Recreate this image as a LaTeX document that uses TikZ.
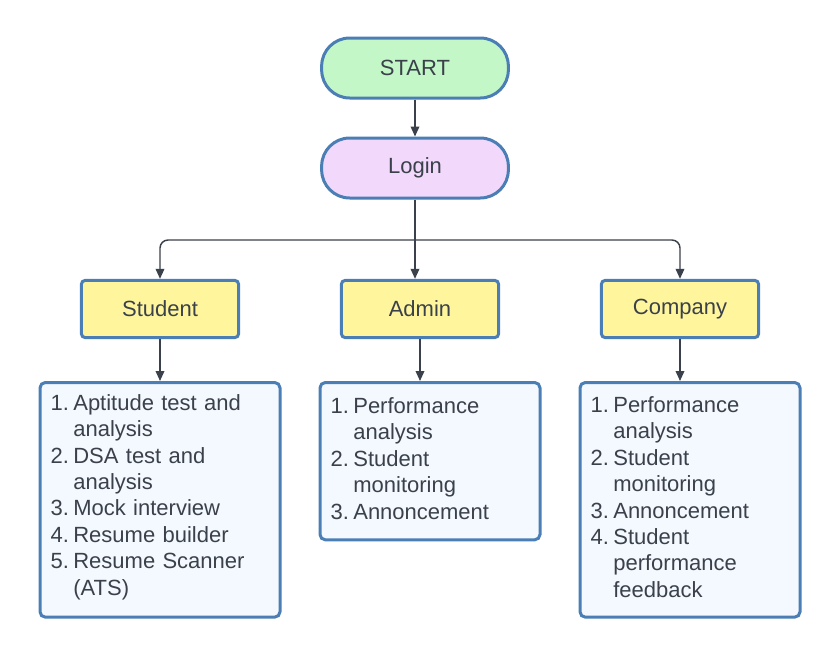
\documentclass[tikz,border=0pt]{standalone}
\usepackage{fontspec}
\setmainfont{Liberation Sans}
\usetikzlibrary{arrows.meta}

\definecolor{edgeblue}{HTML}{4A7EB4}
\definecolor{startgreen}{HTML}{C3F7C8}
\definecolor{loginpink}{HTML}{F2D8FB}
\definecolor{roleyellow}{HTML}{FFF59D}
\definecolor{listblue}{HTML}{F4F9FF}
\definecolor{inkgray}{HTML}{3A414A}

\newcommand{\litem}[2]{\par\noindent\hangindent=17pt\hangafter=1\makebox[17pt][l]{#1.}#2}

\begin{document}
\begin{tikzpicture} [x=.75pt, y=-.75pt,
  every node/.style={font=\fontsize{16.5}{19.8}\selectfont, text=inkgray},
  term/.style={draw=edgeblue, line width=2.25pt, rounded corners=21pt, minimum width=140pt, minimum height=45pt},
  role/.style={draw=edgeblue, line width=2.25pt, rounded corners=3pt, fill=roleyellow, minimum width=118pt, minimum height=43pt},
  tasks/.style={draw=edgeblue, line width=2.25pt, rounded corners=4pt, fill=listblue, anchor=north, align=left, inner xsep=8pt, inner ysep=1pt},
  conn/.style={draw=inkgray, line width=1.1pt, ->, >={Triangle[length=7.5pt,width=6.5pt]}}]
\useasboundingbox (0,0) rectangle (840,657);
\node[term, fill=startgreen] (start) at (415,68) {START};
\node[term, fill=loginpink] (login) at (415,168) {Login};
\node[role] (student) at (160,309) {Student};
\node[role] (admin) at (420,309) {Admin};
\node[role] (company) at (680,309) {Company};
\node[tasks, text width=164pt, minimum height=176pt] (student-tasks) at (160,381) {
 \litem{1}{Aptitude test and\break analysis}
 \litem{2}{DSA test and\break analysis}
 \litem{3}{Mock interview}
 \litem{4}{Resume builder}
 \litem{5}{Resume Scanner\break (ATS)}\par\vspace{12pt}};
\node[tasks, text width=149pt, minimum height=118pt] (admin-tasks) at (430,381) {
 \litem{1}{Performance\break analysis}
 \litem{2}{Student\break monitoring}
 \litem{3}{Annoncement}\par\vspace{12pt}};
\node[tasks, text width=149pt, minimum height=176pt] (company-tasks) at (690,381) {
 \litem{1}{Performance\break analysis}
 \litem{2}{Student\break monitoring}
 \litem{3}{Annoncement}
 \litem{4}{Student\break performance\break feedback}\par\vspace{12pt}};
\coordinate (split) at (415,240);
\draw[conn] (start) -- (login);
\draw[conn] (login) -- (login |- admin.north);
\draw[conn, rounded corners=6pt] (split) -| (student);
\draw[conn, rounded corners=6pt] (split) -| (company);
\foreach \r in {student,admin,company}
 \draw[conn] (\r) -- (\r |- \r-tasks.north);
\end{tikzpicture}
\end{document}
